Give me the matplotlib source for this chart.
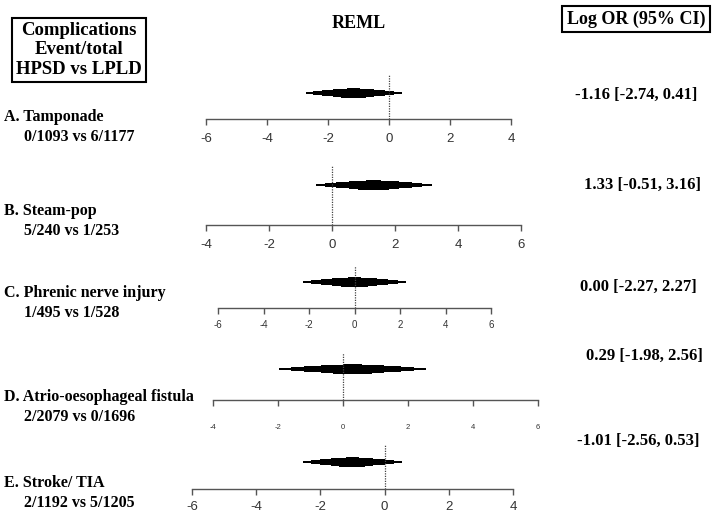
import matplotlib
matplotlib.use('Agg')
import matplotlib.pyplot as plt
import numpy as np
from statistics import NormalDist

# data
labels = ["A. Tamponade", "B. Steam-pop", "C. Phrenic nerve injury",
          "D. Atrio-oesophageal fistula", "E. Stroke/ TIA"]
counts = ["0/1093 vs 6/1177", "5/240 vs 1/253", "1/495 vs 1/528",
          "2/2079 vs 0/1696", "2/1192 vs 5/1205"]
est = [-1.16, 1.33, 0.00, 0.29, -1.01]
ci_lo = [-2.74, -0.51, -2.27, -1.98, -2.56]
ci_hi = [0.41, 3.16, 2.27, 2.56, 0.53]
tick_min = [-6, -4, -6, -4, -6]
tick_max = [4, 6, 6, 6, 4]

W, H = 724, 521
fig = plt.figure(figsize=(W / 100, H / 100), dpi=100)
serif = "Liberation Serif"
sans = "Liberation Sans"

# panel geometry in pixels: axis left, axis right, axis y, top y, diamond y
geom = [(206, 511, 119, 75, 93),
        (206, 521, 225, 165, 185),
        (218, 491, 308, 266, 282),
        (213, 538, 400, 353, 369),
        (192, 513, 489, 445, 462)]
tick_font = [9.5, 9.5, 7, 5.5, 9.5]
tick_pad = [6, 6, 5, 13, 5]

levels = [0.95, 0.9, 0.8, 0.6, 0.4, 0.2]
thick_px = [2.5, 4, 6, 7.5, 9, 10.5]
z95 = 1.959964
nd = NormalDist()

for i in range(5):
    x0, x1, yb, yt, yd = geom[i]
    ax = fig.add_axes([x0 / W, 1 - yb / H, (x1 - x0) / W, (yb - yt) / H])
    ax.set_xlim(tick_min[i], tick_max[i])
    ax.set_ylim(0, 1)
    for s in ["top", "left", "right"]:
        ax.spines[s].set_visible(False)
    ax.spines["bottom"].set_color("#555555")
    ax.spines["bottom"].set_linewidth(1.0)
    ax.set_yticks([])
    ticks = np.arange(tick_min[i], tick_max[i] + 1, 2)
    ax.set_xticks(ticks)
    ax.set_xticklabels([str(t) for t in ticks])
    ax.tick_params(axis="x", direction="out", length=4, width=1.0, color="#555555",
                   labelsize=tick_font[i], labelcolor="#333333", pad=tick_pad[i])
    for lab in ax.get_xticklabels():
        lab.set_fontfamily(sans)
    ax.axvline(0, color="#444444", linestyle=(0, (1, 1)), linewidth=0.9)

    se = (ci_hi[i] - ci_lo[i]) / (2 * z95)
    yc = (yb - yd) / (yb - yt)
    hpx = yb - yt
    for lv, tp in zip(levels, thick_px):
        z = nd.inv_cdf(0.5 + lv / 2)
        lo = est[i] - z * se
        ax.barh(yc, 2 * z * se, left=lo, height=tp / hpx, color="black", linewidth=0)

# text layer
tx = fig.add_axes([0, 0, 1, 1])
tx.set_xlim(0, W)
tx.set_ylim(H, 0)
tx.axis("off")

tx.text(79, 50, "Complications\nEvent/total\nHPSD vs LPLD", ha="center", va="center",
        fontsize=13.5, fontweight="bold", family=serif, linespacing=1.2,
        bbox=dict(boxstyle="square,pad=0.2", fc="white", ec="black", lw=1.5))
tx.text(359, 24, "REML", ha="center", va="center", fontsize=13, fontweight="bold", family=serif)
tx.text(636, 19, "Log OR (95% CI)", ha="center", va="center", fontsize=13,
        fontweight="bold", family=serif,
        bbox=dict(boxstyle="square,pad=0.25", fc="white", ec="black", lw=1.5))

val_x = [636, 642, 638, 644, 638]
val_y = [95, 185, 287, 356, 441]
lab_y = [117, 211, 293, 397, 483]
for i in range(5):
    txt = f"{est[i]:.2f} [{ci_lo[i]:.2f}, {ci_hi[i]:.2f}]"
    tx.text(val_x[i], val_y[i], txt, ha="center", va="center", fontsize=12,
            fontweight="bold", family=serif)
    tx.text(4, lab_y[i], labels[i], ha="left", va="center", fontsize=11.5,
            fontweight="bold", family=serif)
    tx.text(24, lab_y[i] + 20, counts[i], ha="left", va="center", fontsize=11.5,
            fontweight="bold", family=serif)

fig.savefig("out.png", dpi=100)
